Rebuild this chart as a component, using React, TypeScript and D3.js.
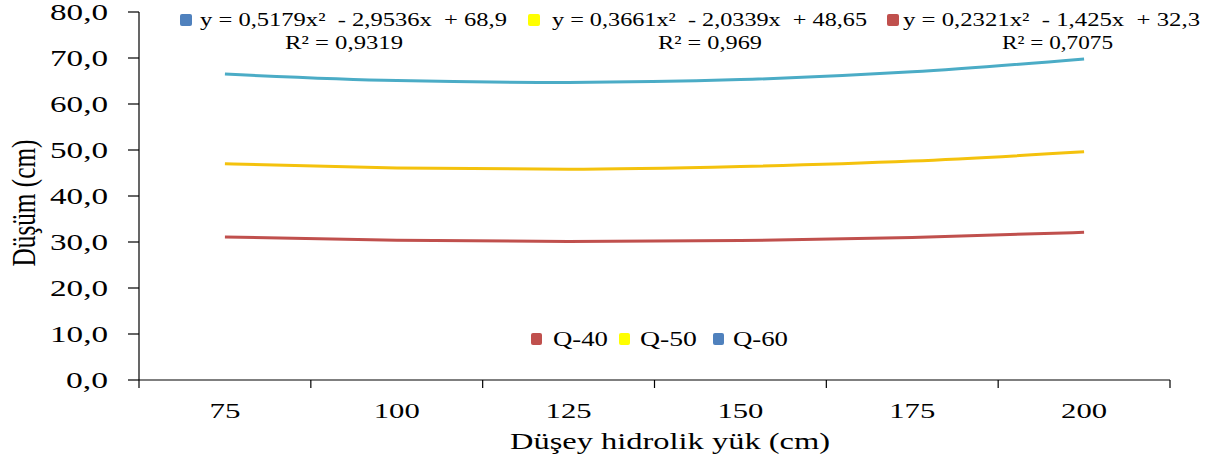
import React from 'react';
import * as d3 from 'd3';

// values
const categories = ['75', '100', '125', '150', '175', '200'];
const q40 = [31.1, 30.4, 30.1, 30.3, 31.0, 32.1];
const q50 = [47.0, 46.1, 45.8, 46.4, 47.6, 49.6];
const q60 = [66.5, 65.1, 64.7, 65.3, 67.0, 69.8];
const yTicks = [0, 10, 20, 30, 40, 50, 60, 70, 80];
const equations = ['y = 0,5179x²  - 2,9536x  + 68,9', 'y = 0,3661x²  - 2,0339x  + 48,65', 'y = 0,2321x²  - 1,425x  + 32,3'];
const rSquared = ['R² = 0,9319', 'R² = 0,969', 'R² = 0,7075'];
const legendNames = ['Q-40', 'Q-50', 'Q-60'];

const W = 1215, H = 466;
const margin = { top: 12, right: 45, bottom: 86, left: 131 };
const FONT = '"Liberation Serif", "Times New Roman", serif';
// the original picture is stretched sideways, so the glyphs are too
const SX = 1.36;

type TProps = { x: number; y: number; size: number; anchor?: string; dy?: string; len?: number; children: string };

function T(p: TProps) {
    return (
        <text transform={`translate(${p.x},${p.y}) scale(${SX},1)`} textAnchor={p.anchor || 'start'} dy={p.dy}
            fontSize={p.size} fontFamily={FONT} style={{ whiteSpace: 'pre' }}
            textLength={p.len ? p.len / SX : undefined} lengthAdjust={p.len ? 'spacingAndGlyphs' : undefined}>
            {p.children}
        </text>
    );
}

export default function App() {
    const width = W - margin.left - margin.right;
    const height = H - margin.top - margin.bottom;

    const xScale = d3.scaleBand().domain(categories).range([8, width]);
    const yScale = d3.scaleLinear().domain([0, 80]).range([height, 0]);
    const cx = (i: number) => (xScale(categories[i]) || 0) + xScale.bandwidth() / 2;

    const myLine = d3.line<number>()
        .x((v, i) => cx(i))
        .y(v => yScale(v))
        .curve(d3.curveMonotoneX);

    const lines = [
        { data: q60, color: '#4BACC6' },
        { data: q50, color: '#F4C20D' },
        { data: q40, color: '#C0504D' },
    ];
    const boundaries = [8, ...categories.map((c) => (xScale(c) || 0) + xScale.bandwidth())];

    const eqItems = [
        { mx: 180, tx: 200, len: 307, rx: 285, rlen: 118, color: '#4F81BD' },
        { mx: 528, tx: 552, len: 315, rx: 658, rlen: 104, color: '#FFFF00' },
        { mx: 887, tx: 903, len: 297, rx: 1002, rlen: 111, color: '#C0504D' },
    ];
    const bottomLegend = [
        { mx: 531, tx: 553, len: 55, color: '#C0504D' },
        { mx: 619, tx: 640, len: 57, color: '#FFFF00' },
        { mx: 713, tx: 733, len: 55, color: '#4F81BD' },
    ];

    return (
        <svg width={W} height={H} style={{ position: 'absolute', left: 0, top: 0, background: '#fff' }} fontFamily={FONT}>
            <g transform={`translate(${margin.left},${margin.top})`}>
                {lines.map((l, i) => (
                    <path key={i} d={myLine(l.data) || ''} fill="none" stroke={l.color} strokeWidth={3} />
                ))}
                {/* y axis */}
                <line x1={8} x2={8} y1={0} y2={height} stroke="#000" strokeWidth={1.2} />
                {yTicks.map(t => (
                    <g key={t}>
                        <line x1={-3} x2={8} y1={yScale(t)} y2={yScale(t)} stroke="#000" strokeWidth={1.2} />
                        <T x={-23} y={yScale(t)} dy="0.34em" anchor="end" size={23} len={t === 0 ? 42 : 58}>
                            {d3.format('.1f')(t).replace('.', ',')}
                        </T>
                    </g>
                ))}
                {/* x axis */}
                <line x1={8} x2={width} y1={height} y2={height} stroke="#000" strokeWidth={1.2} />
                {boundaries.map((b, i) => (
                    <line key={i} x1={b} x2={b} y1={height} y2={height + 8} stroke="#000" strokeWidth={1.2} />
                ))}
                {categories.map((c, i) => (
                    <T key={c} x={cx(i)} y={height + 38} anchor="middle" size={22} len={c.length === 2 ? 31 : 46}>{c}</T>
                ))}
            </g>
            <T x={670} y={449} anchor="middle" size={23} len={320}>Düşey hidrolik yük (cm)</T>
            <text transform={`translate(35,203) scale(${SX},1) rotate(-90)`} textAnchor="middle" fontSize={24}
                textLength={127} lengthAdjust="spacingAndGlyphs">Düşüm (cm)</text>
            {equations.map((e, i) => (
                <g key={i}>
                    <rect x={eqItems[i].mx} y={14} width={12} height={12} rx={2} fill={eqItems[i].color} />
                    <T x={eqItems[i].tx} y={26} size={19} len={eqItems[i].len}>{e}</T>
                    <T x={eqItems[i].rx} y={49} size={19} len={eqItems[i].rlen}>{rSquared[i]}</T>
                </g>
            ))}
            {legendNames.map((n, i) => (
                <g key={n}>
                    <rect x={bottomLegend[i].mx} y={333} width={11} height={12} rx={2} fill={bottomLegend[i].color} />
                    <T x={bottomLegend[i].tx} y={346} size={20} len={bottomLegend[i].len}>{n}</T>
                </g>
            ))}
        </svg>
    );
}
